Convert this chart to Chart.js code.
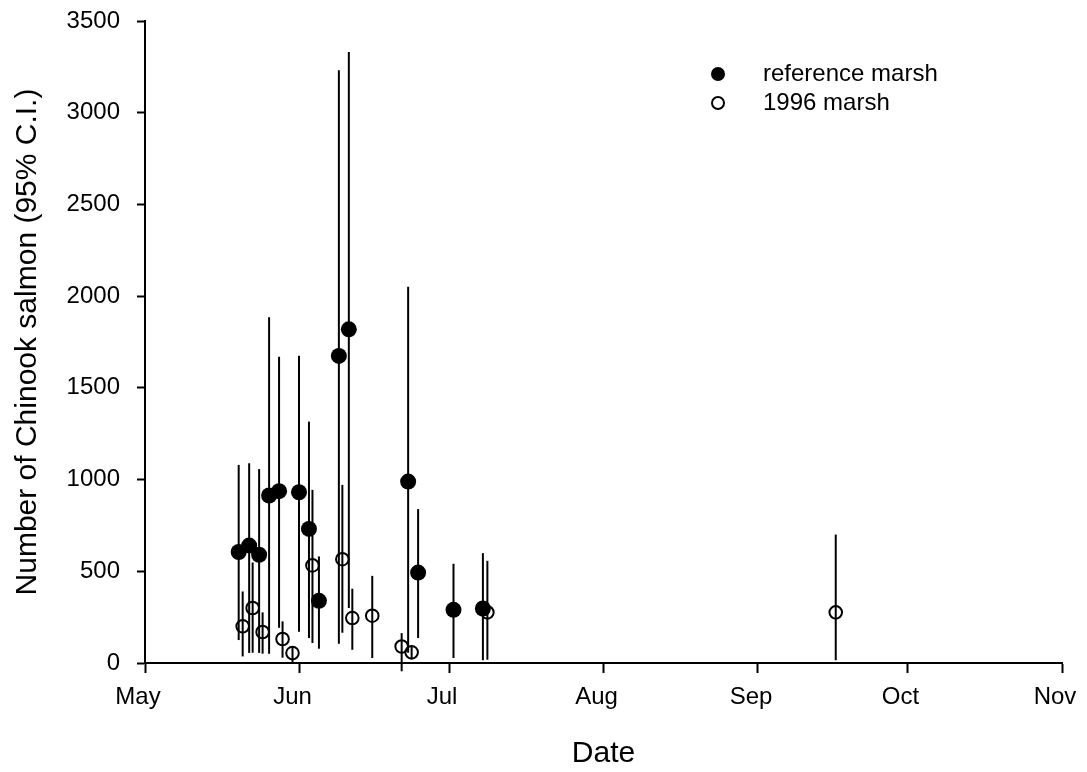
<!DOCTYPE html>
<html>
<head>
<meta charset="utf-8">
<title>Chinook salmon counts</title>
<script src="https://cdn.jsdelivr.net/npm/chart.js@4.4.1/dist/chart.umd.min.js"></script>
<style>
  html, body { margin: 0; padding: 0; background: #fff; }
  #wrap { width: 1087px; height: 772px; }
</style>
</head>
<body>
<div id="wrap"><canvas id="salmonChart" width="1087" height="772"></canvas></div>
<script>
// x values are days counted from 1 May
const monthLabels = ['May', 'Jun', 'Jul', 'Aug', 'Sep', 'Oct', 'Nov'];
const monthStarts = [0, 31, 61, 92, 123, 153, 184];

// reference marsh: estimate with 95% C.I.
const refDays  = [18.8, 20.9, 22.9, 24.9, 26.9, 30.9, 32.9, 34.9, 38.9, 40.9, 52.8, 54.8, 61.9, 67.8];
const refCount = [605, 640, 590, 913, 937, 931, 731, 339, 1674, 1819, 989, 493, 290, 297];
const refLow   = [125, 55, 55, 50, 192, 170, 136, 78, 105, 300, 56, 136, 27, 15];
const refHigh  = [1080, 1089, 1057, 1885, 1670, 1675, 1316, 581, 3232, 3331, 2051, 839, 541, 599];

// 1996 marsh: estimate with 95% C.I.
const marshDays  = [19.6, 21.6, 23.6, 27.6, 29.6, 33.6, 39.6, 41.6, 45.6, 51.5, 53.5, 68.7, 138.6];
const marshCount = [200, 300, 169, 131, 54, 532, 566, 245, 258, 90, 58, 276, 276];
const marshLow   = [36, 56, 51, 29, 5, 109, 165, 72, 27, -45, 25, 18, 15];
const marshHigh  = [390, 548, 276, 227, 90, 944, 971, 405, 475, 163, 90, 557, 700];

const yTicks = [0, 500, 1000, 1500, 2000, 2500, 3000, 3500];

const toPoints = (xs, ys) => xs.map((x, i) => ({ x: x, y: ys[i] }));

Chart.defaults.font.family = "'Liberation Sans', Arial, Helvetica, sans-serif";
Chart.defaults.color = '#000';

// vertical C.I. bars, drawn under the markers
const ciBars = {
  id: 'ciBars',
  beforeDatasetsDraw(chart) {
    const { ctx, scales: { x, y } } = chart;
    ctx.save();
    ctx.strokeStyle = '#000';
    ctx.lineWidth = 2;
    chart.data.datasets.forEach(ds => {
      ds.data.forEach((p, i) => {
        const px = x.getPixelForValue(p.x);
        ctx.beginPath();
        ctx.moveTo(px, y.getPixelForValue(ds.ciLow[i]));
        ctx.lineTo(px, y.getPixelForValue(ds.ciHigh[i]));
        ctx.stroke();
      });
    });
    ctx.restore();
  }
};

// symbol key in the upper right of the plot
const symbolKey = {
  id: 'symbolKey',
  afterDraw(chart, args, opts) {
    const ctx = chart.ctx;
    ctx.save();
    ctx.font = opts.size + "px 'Liberation Sans', Arial, sans-serif";
    ctx.textBaseline = 'middle';
    ctx.textAlign = 'left';
    chart.data.datasets.forEach((ds, i) => {
      const y = opts.top + i * opts.gap;
      ctx.beginPath();
      ctx.arc(opts.markerX, y, ds.filled ? 7 : 6, 0, Math.PI * 2);
      if (ds.filled) {
        ctx.fillStyle = '#000';
        ctx.fill();
      } else {
        ctx.lineWidth = 2;
        ctx.strokeStyle = '#000';
        ctx.stroke();
      }
      ctx.fillStyle = '#000';
      ctx.fillText(ds.label, opts.textX, y);
    });
    ctx.restore();
  }
};

new Chart(document.getElementById('salmonChart'), {
  type: 'scatter',
  data: {
    datasets: [
      {
        label: 'reference marsh',
        data: toPoints(refDays, refCount),
        ciLow: refLow,
        ciHigh: refHigh,
        filled: true,
        pointRadius: 8,
        pointBorderWidth: 0,
        pointBackgroundColor: '#000',
        pointBorderColor: '#000'
      },
      {
        label: '1996 marsh',
        data: toPoints(marshDays, marshCount),
        ciLow: marshLow,
        ciHigh: marshHigh,
        filled: false,
        pointRadius: 6.3,
        pointBorderWidth: 2,
        pointBackgroundColor: 'rgba(0,0,0,0)',
        pointBorderColor: '#000'
      }
    ]
  },
  options: {
    responsive: false,
    animation: false,
    devicePixelRatio: 1,
    events: [],
    layout: { padding: { top: 21, right: 25, bottom: 0, left: 0 } },
    plugins: {
      legend: { display: false },
      tooltip: { enabled: false },
      symbolKey: { markerX: 718, textX: 763, top: 74, gap: 29, size: 24 }
    },
    scales: {
      x: {
        type: 'linear',
        min: monthStarts[0],
        max: monthStarts[monthStarts.length - 1],
        afterBuildTicks: axis => { axis.ticks = monthStarts.map(v => ({ value: v })); },
        afterFit: axis => {
          axis.height = 109;
          axis.paddingLeft = 0;
          axis.paddingRight = 0;
        },
        ticks: {
          autoSkip: false,
          maxRotation: 0,
          padding: 10,
          labelOffset: -7,
          font: { size: 24 },
          color: '#000',
          callback: (v, i) => monthLabels[i]
        },
        grid: { drawOnChartArea: false, tickLength: 10, tickWidth: 2, tickColor: '#000' },
        border: { display: true, color: '#000', width: 2 },
        title: { display: true, text: 'Date', font: { size: 30 }, color: '#000', padding: { top: 0, bottom: 0 } }
      },
      y: {
        min: yTicks[0],
        max: yTicks[yTicks.length - 1],
        afterBuildTicks: axis => { axis.ticks = yTicks.map(v => ({ value: v })); },
        afterFit: axis => {
          axis.width = 145;
          axis.paddingTop = 0;
          axis.paddingBottom = 0;
        },
        ticks: {
          padding: 17,
          font: { size: 24 },
          color: '#000',
          callback: v => String(v)
        },
        grid: { drawOnChartArea: false, tickLength: 8, tickWidth: 2, tickColor: '#000' },
        border: { display: true, color: '#000', width: 2 },
        title: { display: true, text: 'Number of Chinook salmon (95% C.I.)', font: { size: 30 }, color: '#000', padding: { top: 10, bottom: 0 } }
      }
    }
  },
  plugins: [ciBars, symbolKey]
});
</script>
</body>
</html>
